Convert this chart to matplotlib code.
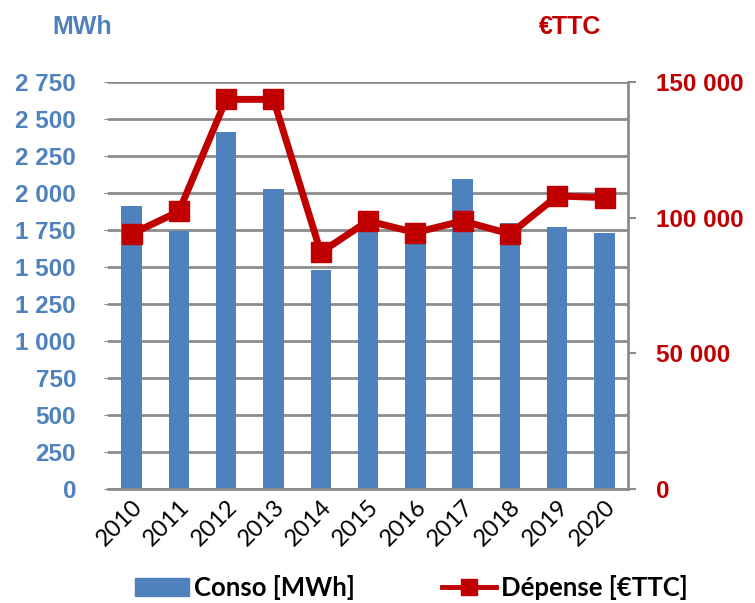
import matplotlib.pyplot as plt
from matplotlib.ticker import FuncFormatter
from matplotlib.lines import Line2D
from matplotlib.patches import Patch

years = ['2010', '2011', '2012', '2013', '2014', '2015', '2016', '2017', '2018', '2019', '2020']
conso = [1914, 1741, 2414, 2027, 1480, 1760, 1700, 2093, 1795, 1772, 1732]
depense = [94000, 102300, 143600, 143600, 87200, 98800, 94500, 98800, 94000, 108000, 107400]

blue = '#4F81BD'
red = '#C00000'
grey = '#8C8C8C'


def fr(x, pos):
    return f"{int(round(x)):,}".replace(",", " ")


fig = plt.figure(figsize=(7.55, 6.03), dpi=100)
ax = fig.add_axes([0.143, 0.189, 0.689, 0.675])
ax2 = ax.twinx()

x = range(len(years))
ax.bar(x, conso, width=0.43, color=blue, zorder=2)
ax2.plot(x, depense, color=red, lw=5, marker='s', markersize=14, zorder=3)

ax.set_xlim(-0.5, len(years) - 0.5)
ax.set_ylim(0, 2750)
ax.set_yticks(range(0, 2751, 250))
ax.yaxis.set_major_formatter(FuncFormatter(fr))
ax2.set_ylim(0, 150000)
ax2.set_yticks([0, 50000, 100000, 150000])
ax2.yaxis.set_major_formatter(FuncFormatter(fr))

ax.grid(axis='y', color=grey, lw=2)
ax.set_axisbelow(True)
for a in (ax, ax2):
    a.spines['top'].set_visible(False)
    a.spines['left'].set_visible(False)
ax.spines['right'].set_visible(False)
ax2.spines['bottom'].set_visible(False)
ax.spines['bottom'].set_color(grey)
ax.spines['bottom'].set_linewidth(2)
ax2.spines['right'].set_color(grey)
ax2.spines['right'].set_linewidth(2)

ax.tick_params(axis='y', length=3, color=grey, labelcolor=blue, labelsize=17.5, pad=20)
ax.tick_params(axis='x', length=0, labelsize=17, pad=5)
ax2.tick_params(axis='y', length=6, width=1.5, color=grey, labelcolor=red, labelsize=17.5, pad=14)
for lab in ax.get_yticklabels() + ax2.get_yticklabels():
    lab.set_fontweight('bold')
    lab.set_family('Liberation Sans')
ax.set_xticks(list(x))
ax.set_xticklabels(years, rotation=45, ha='right', rotation_mode='anchor', family='Lato')

fig.text(0.070, 0.955, 'MWh', color=blue, fontsize=18, fontweight='bold', family='Liberation Sans', va='center')
fig.text(0.714, 0.955, '€TTC', color=red, fontsize=18, fontweight='bold', family='Liberation Sans', va='center')

handles = [Patch(color=blue, label='Conso [MWh]'),
           Line2D([], [], color=red, lw=3.5, marker='s', markersize=11.5, label='Dépense [€TTC]')]
fig.legend(handles=handles, loc='lower center', bbox_to_anchor=(0.545, -0.033), ncol=2, frameon=False,
           prop={'family': 'Lato', 'weight': 'bold', 'size': 18.5}, columnspacing=3.4,
           handlelength=2.1, handletextpad=0.2)

fig.savefig('out.png', dpi=100)
